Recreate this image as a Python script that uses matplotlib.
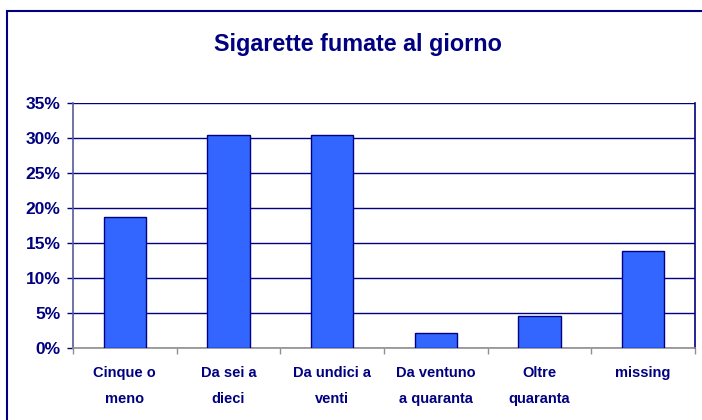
import numpy as np
import matplotlib
matplotlib.use('Agg')
import matplotlib.pyplot as plt
from matplotlib.patches import Rectangle
from matplotlib.ticker import FixedLocator

categories = ["Cinque o\nmeno", "Da sei a\ndieci", "Da undici a\nventi",
              "Da ventuno\na quaranta", "Oltre\nquaranta", "missing"]
values = [18.7, 30.4, 30.4, 2.2, 4.6, 13.9]
yticks = [0, 5, 10, 15, 20, 25, 30, 35]
ylabels = ["%d%%" % t for t in yticks]

navy = '#000080'
plt.rcParams['font.family'] = ['Liberation Sans', 'DejaVu Sans']

fig = plt.figure(figsize=(7.02, 4.2), dpi=100)
ax = fig.add_axes([0.104, 0.1714, 0.886, 0.5834])

x = np.arange(len(categories))
ax.bar(x, values, width=0.41, color='#3366FF', edgecolor=navy,
       linewidth=1.0, zorder=3)

ax.set_xlim(-0.5, len(categories) - 0.5)
ax.set_ylim(0, 35)
ax.set_yticks(yticks)
ax.set_yticklabels(ylabels, fontsize=12.5, fontweight='bold', color=navy)
ax.yaxis.grid(True, color=navy, linewidth=1.0, zorder=0)
ax.tick_params(axis='y', length=4, width=1, color=navy, pad=5)

# category boundaries carry the ticks, labels sit at centres
ax.xaxis.set_major_locator(FixedLocator(np.arange(len(categories) + 1) - 0.5))
ax.xaxis.set_minor_locator(FixedLocator(x))
ax.set_xticklabels([])
ax.set_xticklabels(categories, minor=True, fontsize=10.5, fontweight='bold',
                   color=navy, linespacing=2.05)
ax.tick_params(axis='x', which='major', length=4, width=1, color='#909090')
ax.tick_params(axis='x', which='minor', length=0, pad=13)

ax.spines['top'].set_visible(False)
ax.spines['left'].set_color('#5a5a9a')
ax.spines['bottom'].set_color('#909090')
ax.spines['right'].set_color(navy)
for s in ['left', 'bottom', 'right']:
    ax.spines[s].set_linewidth(1.2)

fig.text(0.51, 0.895, "Sigarette fumate al giorno", ha='center', va='center',
         fontsize=16.8, fontweight='bold', color=navy)

frame = Rectangle((6.5 / 702, -0.1), 1.2, 1.1 - 11.5 / 420,
                  transform=fig.transFigure, fill=False, edgecolor=navy,
                  linewidth=1.5, clip_on=False)
fig.patches.append(frame)

fig.savefig('out.png', dpi=100)
